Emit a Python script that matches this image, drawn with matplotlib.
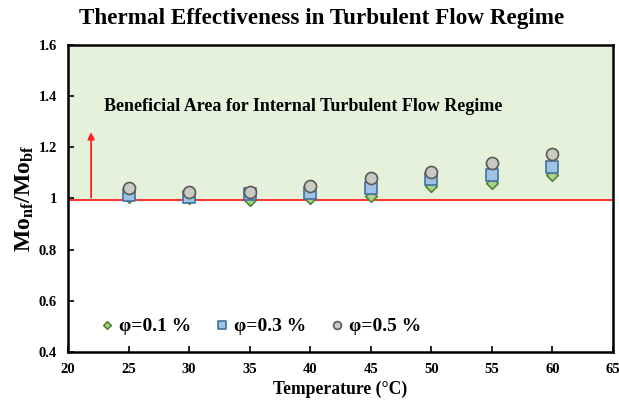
import matplotlib
matplotlib.use("Agg")
import matplotlib.pyplot as plt

plt.rcParams['font.family'] = ['Liberation Serif', 'DejaVu Serif']
plt.rcParams['font.weight'] = 'bold'
plt.rcParams['mathtext.fontset'] = 'custom'
plt.rcParams['mathtext.rm'] = 'Liberation Serif'
plt.rcParams['mathtext.bf'] = 'Liberation Serif:bold'
plt.rcParams['mathtext.it'] = 'Liberation Serif:italic:bold'

temperature = [25, 30, 35, 40, 45, 50, 55, 60]
phi_01 = [1.005, 1.0, 0.994, 1.0, 1.01, 1.048, 1.061, 1.091]
phi_03 = [1.013, 1.007, 1.017, 1.02, 1.042, 1.078, 1.091, 1.124]
phi_05 = [1.04, 1.026, 1.026, 1.048, 1.081, 1.104, 1.137, 1.173]
labels = ['φ=0.1 %', 'φ=0.3 %', 'φ=0.5 %']

fig = plt.figure(figsize=(6.19, 4.01), dpi=100)
ax = fig.add_axes([0.110, 0.122, 0.880, 0.766])

ax.set_xlim(20, 65)
ax.set_ylim(0.4, 1.6)

ax.axhspan(0.993, 1.6, color='#e6f1dc', zorder=0)
ax.axhline(0.993, color='#ff2020', lw=1.3, zorder=1)
ax.annotate('', xy=(21.9, 1.27), xytext=(21.9, 0.993),
            arrowprops=dict(arrowstyle='-|>', color='#ff2020', lw=1.3, mutation_scale=10))

ax.scatter(temperature, phi_01, marker='D', s=35, facecolor='#a9d18e', edgecolor='#548235', lw=1.2, zorder=3, label=labels[0])
ax.scatter(temperature, phi_03, marker='s', s=64, facecolor='#9dc3e6', edgecolor='#41719c', lw=1.2, zorder=4, label=labels[1])
ax.scatter(temperature, phi_05, marker='o', s=75, facecolor='#c9cbc3', edgecolor='#595959', lw=1.2, zorder=5, label=labels[2])

ax.text(23.0, 1.36, 'Beneficial Area for Internal Turbulent Flow Regime',
        fontsize=13, fontweight='bold', va='center', ha='left')

ax.set_xticks(range(20, 70, 5))
ax.set_yticks([0.4, 0.6, 0.8, 1.0, 1.2, 1.4, 1.6])
ax.set_yticklabels(['0.4', '0.6', '0.8', '1', '1.2', '1.4', '1.6'])
ax.tick_params(direction='in', length=4, width=1.2, labelsize=10.5, pad=8)
for lab in ax.get_xticklabels() + ax.get_yticklabels():
    lab.set_fontweight('bold')
for s in ax.spines.values():
    s.set_linewidth(1.8)
    s.set_color('black')

ax.set_xlabel('Temperature (°C)', fontsize=12.7, fontweight='bold', labelpad=3)
ax.set_ylabel(r'$\mathbf{Mo_{nf}/Mo_{bf}}$', fontsize=17, labelpad=2)
fig.text(0.519, 0.955, 'Thermal Effectiveness in Turbulent Flow Regime',
         fontsize=16.7, fontweight='bold', ha='center', va='center')

leg = ax.legend(loc='lower left', bbox_to_anchor=(0.025, 0.0), ncol=3, frameon=False,
                prop={'size': 14, 'weight': 'bold'}, handletextpad=0.2, columnspacing=1.2,
                handlelength=0.8, markerscale=0.65)

fig.savefig('out.png', dpi=100)
